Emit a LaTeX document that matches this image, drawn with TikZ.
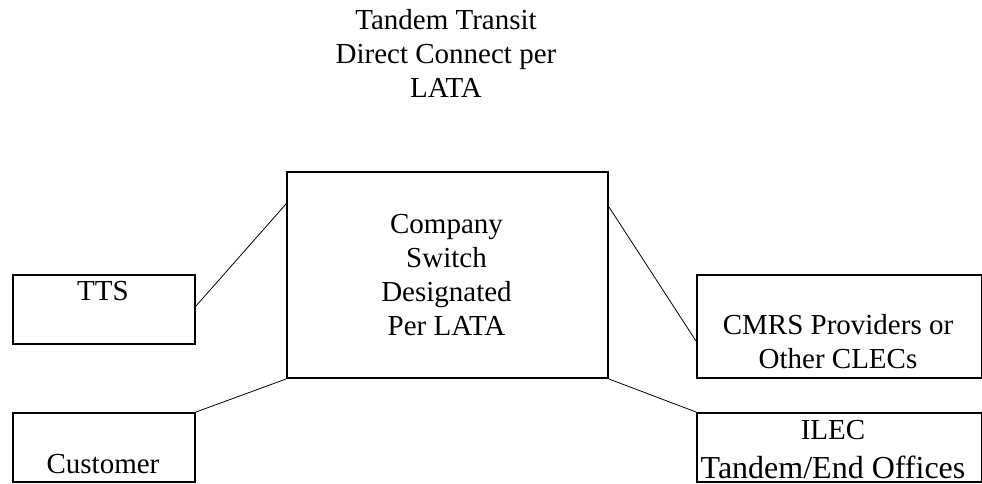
\documentclass[tikz,border=0pt]{standalone}
\usepackage{fontspec}
\setmainfont{Liberation Serif}
\usetikzlibrary{calc}
\begin{document}
\begin{tikzpicture}[x=1pt,y=-1pt,
  box/.style={draw,line width=2pt,rectangle,inner sep=0pt,anchor=north west},
  lbl/.style={anchor=base,inner sep=0pt,font=\fontsize{29}{34}\selectfont,align=center},
  link/.style={line width=0.8pt}]
\useasboundingbox (0,0) rectangle (982,483);

% title (anchored on the baseline of its last line)
\node[lbl] (title) at (446,97) {Tandem Transit\\Direct Connect per\\LATA};

% boxes
\node[box,minimum width=321pt,minimum height=206pt] (sw) at (286,171) {};
\node[box,minimum width=182pt,minimum height=69pt] (tts) at (12,274) {};
\node[box,minimum width=182pt,minimum height=69pt] (cust) at (12,412) {};
\node[box,minimum width=285pt,minimum height=103pt] (cmrs) at (696,274) {};
\node[box,minimum width=285pt,minimum height=69pt] (ilec) at (696,412) {};

% labels
\node[lbl] (swl) at (446.5,335) {Company\\Switch\\Designated\\Per LATA};
\node[lbl] (ttsl) at (103,300) {TTS};
\node[lbl] (custl) at (103,473) {Customer};
\node[lbl] (cmrsl) at (838,368) {CMRS Providers or\\Other CLECs};
\node[lbl,font=\fontsize{29}{39}\selectfont] (ilecl) at (833,478)
  {ILEC\\{\fontsize{32}{39}\selectfont Tandem/End Offices}};

% connectors
\coordinate (swTL) at ($(sw.north west)+(0,33)$);
\coordinate (swTR) at ($(sw.north east)+(0,36)$);
\coordinate (ttsR) at ($(tts.north east)+(0,32)$);
\coordinate (cmrsL) at ($(cmrs.north west)+(0,67)$);
\draw[link] (ttsR) -- (swTL);
\draw[link] (cust.north east) -- (sw.south west);
\draw[link] (sw.south east) -- (ilec.north west);
\draw[link] (swTR) -- (cmrsL);
\end{tikzpicture}
\end{document}
